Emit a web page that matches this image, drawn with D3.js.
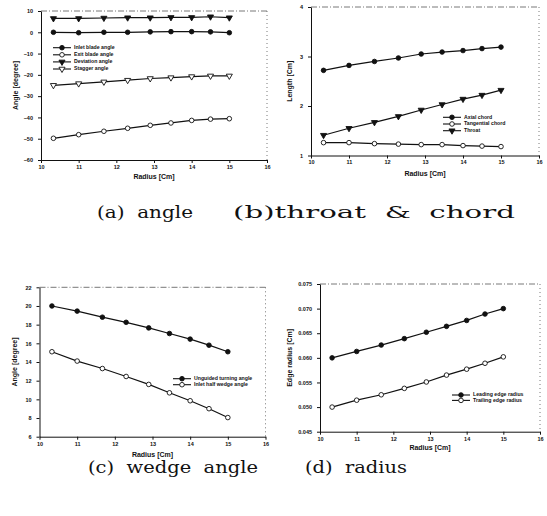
<!DOCTYPE html>
<html><head><meta charset="utf-8">
<script src="https://cdn.jsdelivr.net/npm/d3@7"></script>
<style>body{margin:0;background:#fff}svg{display:block}</style>
</head><body>
<script>
// ---- data ----
const radius = [10.33, 11.0, 11.67, 12.3, 12.9, 13.45, 14.0, 14.5, 15.0];
const xTicks = [10, 11, 12, 13, 14, 15, 16];

// (a) angle
const inletBladeAngle = [0, -0.2, 0, 0, 0.2, 0.3, 0.3, 0.2, -0.2];
const exitBladeAngle = [-49.8, -48.1, -46.5, -45.1, -43.7, -42.6, -41.4, -40.8, -40.6];
const deviationAngle = [6.5, 6.5, 6.7, 6.85, 6.85, 7.0, 7.0, 7.3, 6.85];
const staggerAngle = [-24.9, -24.1, -23.3, -22.5, -21.7, -21.3, -20.8, -20.5, -20.5];
const yTicksA = [10, 0, -10, -20, -30, -40, -50, -60];

// (b) throat & chord
const axialChord = [2.72, 2.82, 2.90, 2.97, 3.05, 3.09, 3.12, 3.16, 3.19];
const tangentialChord = [1.26, 1.26, 1.24, 1.23, 1.22, 1.22, 1.20, 1.19, 1.18];
const throat = [1.41, 1.55, 1.67, 1.79, 1.92, 2.03, 2.14, 2.22, 2.32];
const yTicksB = [1, 2, 3, 4];

// (c) wedge angle
const unguidedTurningAngle = [20.0, 19.45, 18.8, 18.25, 17.65, 17.05, 16.45, 15.8, 15.1];
const inletHalfWedgeAngle = [15.1, 14.1, 13.3, 12.45, 11.6, 10.7, 9.85, 9.0, 8.05];
const yTicksC = [6, 8, 10, 12, 14, 16, 18, 20, 22];

// (d) radius
const leadingEdgeRadius = [0.0600, 0.0613, 0.0626, 0.0639, 0.0652, 0.0664, 0.0676, 0.0689, 0.0700];
const trailingEdgeRadius = [0.0500, 0.0514, 0.0525, 0.0538, 0.0551, 0.0565, 0.0577, 0.0589, 0.0602];
const yTicksD = [0.045, 0.050, 0.055, 0.060, 0.065, 0.070, 0.075];

const captions = ["(a)  angle", "(b)throat  &  chord", "(c)  wedge  angle", "(d)  radius"];

// ---- drawing ----
const W = 547, H = 516;
const svg = d3.select("body").append("svg").attr("width", W).attr("height", H);

const panels = [
  { box: {l: 41, r: 267, t: 11, b: 160}, yDom: [-60, 10], yTicks: yTicksA, fmt: d3.format("d"),
    ytitle: "Angle [degree]", ytx: 16, xtitleY: 179,
    series: [
      {name: "Inlet blade angle", v: inletBladeAngle, m: "fc"},
      {name: "Exit blade angle", v: exitBladeAngle, m: "oc"},
      {name: "Deviation angle", v: deviationAngle, m: "ft"},
      {name: "Stagger angle", v: staggerAngle, m: "ot"}],
    legend: {x: 53, y: 47.7, dy: 7.1},
    caption: {text: captions[0], x: 97, w: 96, y: 218}},
  { box: {l: 311, r: 539, t: 7, b: 155.5}, yDom: [1, 4], yTicks: yTicksB, fmt: d3.format("d"),
    ytitle: "Length [Cm]", ytx: 290, xtitleY: 176,
    series: [
      {name: "Axial chord", v: axialChord, m: "fc"},
      {name: "Tangential chord", v: tangentialChord, m: "oc"},
      {name: "Throat", v: throat, m: "ft"}],
    legend: {x: 443, y: 117.3, dy: 6.7},
    caption: {text: captions[1], x: 233, w: 282, y: 218}},
  { box: {l: 39.5, r: 265.5, t: 287.3, b: 436.7}, yDom: [6, 22], yTicks: yTicksC, fmt: d3.format("d"),
    ytitle: "Angle [degree]", ytx: 15, xtitleY: 456.5,
    series: [
      {name: "Unguided turning angle", v: unguidedTurningAngle, m: "fc"},
      {name: "Inlet half wedge angle", v: inletHalfWedgeAngle, m: "oc"}],
    legend: {x: 173, y: 378.7, dy: 6},
    caption: {text: captions[2], x: 88, w: 170, y: 473}},
  { box: {l: 320, r: 540, t: 284, b: 431.7}, yDom: [0.045, 0.075], yTicks: yTicksD, fmt: d3.format(".3f"),
    ytitle: "Edge radius [Cm]", ytx: 290, xtitleY: 450,
    series: [
      {name: "Leading edge radius", v: leadingEdgeRadius, m: "fc"},
      {name: "Trailing edge radius", v: trailingEdgeRadius, m: "oc"}],
    legend: {x: 452, y: 395, dy: 5.4},
    caption: {text: captions[3], x: 305, w: 102, y: 473}}
];

const tri = d3.symbol().type(d3.symbolTriangle).size(16);

function marker(g, kind, x, y) {
  if (kind === "fc" || kind === "oc") {
    g.append("circle").attr("cx", x).attr("cy", y).attr("r", 2.3)
      .attr("fill", kind === "fc" ? "#111" : "#fff").attr("stroke", "#111").attr("stroke-width", 0.9);
  } else {
    g.append("path").attr("d", tri())
      .attr("transform", `translate(${x},${y}) rotate(180)`)
      .attr("fill", kind === "ft" ? "#111" : "#fff").attr("stroke", "#111").attr("stroke-width", 0.9);
  }
}

panels.forEach(p => {
  const b = p.box;
  const x = d3.scaleLinear().domain([10, 16]).range([b.l, b.r]);
  const y = d3.scaleLinear().domain(p.yDom).range([b.b, b.t]);
  const g = svg.append("g");

  // frame: dashed top/right
  g.append("line").attr("x1", b.l).attr("x2", b.r).attr("y1", b.t).attr("y2", b.t)
    .attr("stroke", "#555").attr("stroke-width", 0.8).attr("stroke-dasharray", "6,2,1,2");
  g.append("line").attr("x1", b.r).attr("x2", b.r).attr("y1", b.t).attr("y2", b.b)
    .attr("stroke", "#555").attr("stroke-width", 0.8).attr("stroke-dasharray", "1,3");

  const xa = g.append("g").attr("transform", `translate(0,${b.b})`)
    .call(d3.axisBottom(x).tickValues(xTicks).tickFormat(d3.format("d")).tickSize(3).tickSizeOuter(0));
  const ya = g.append("g").attr("transform", `translate(${b.l},0)`)
    .call(d3.axisLeft(y).tickValues(p.yTicks).tickFormat(p.fmt).tickSize(3).tickSizeOuter(0));
  [xa, ya].forEach(a => {
    a.select(".domain").attr("stroke", "#111").attr("stroke-width", 1);
    a.selectAll(".tick line").attr("stroke", "#111");
    a.selectAll("text").attr("font-family", "Liberation Sans, Arial, sans-serif")
      .attr("font-size", 5.5).attr("font-weight", "bold").attr("fill", "#111");
  });
  ya.selectAll("text").attr("x", -8);
  xa.selectAll("text").attr("y", 5);

  // titles
  g.append("text").attr("x", (b.l + b.r) / 2).attr("y", p.xtitleY).attr("text-anchor", "middle")
    .attr("font-family", "Liberation Sans, Arial, sans-serif").attr("font-size", 7).attr("font-weight", "bold")
    .attr("fill", "#111").text("Radius [Cm]");
  g.append("text").attr("transform", `translate(${p.ytx},${(b.t + b.b) / 2}) rotate(-90)`)
    .attr("text-anchor", "middle").attr("dominant-baseline", "middle")
    .attr("font-family", "Liberation Sans, Arial, sans-serif").attr("font-size", 7).attr("font-weight", "bold")
    .attr("fill", "#111").text(p.ytitle);

  // series
  const line = d3.line().x((d, i) => x(radius[i])).y(d => y(d));
  p.series.forEach(s => {
    g.append("path").datum(s.v).attr("d", line).attr("fill", "none")
      .attr("stroke", "#111").attr("stroke-width", 1.2);
    s.v.forEach((v, i) => marker(g, s.m, x(radius[i]), y(v)));
  });

  // legend
  p.series.forEach((s, i) => {
    const ly = p.legend.y + i * p.legend.dy;
    g.append("line").attr("x1", p.legend.x).attr("x2", p.legend.x + 18).attr("y1", ly).attr("y2", ly)
      .attr("stroke", "#111").attr("stroke-width", 1.1);
    marker(g, s.m, p.legend.x + 9, ly);
    g.append("text").attr("x", p.legend.x + 21).attr("y", ly).attr("dominant-baseline", "middle")
      .attr("font-family", "Liberation Sans, Arial, sans-serif").attr("font-size", 5.2).attr("font-weight", "bold")
      .attr("fill", "#111").text(s.name);
  });

  // caption
  svg.append("text").attr("x", p.caption.x).attr("y", p.caption.y)
    .attr("font-family", "DejaVu Serif, Liberation Serif, serif").attr("font-size", 17.5)
    .style("white-space", "pre")
    .attr("textLength", p.caption.w).attr("lengthAdjust", "spacingAndGlyphs")
    .attr("fill", "#111").text(p.caption.text);
});
</script>
</body></html>
